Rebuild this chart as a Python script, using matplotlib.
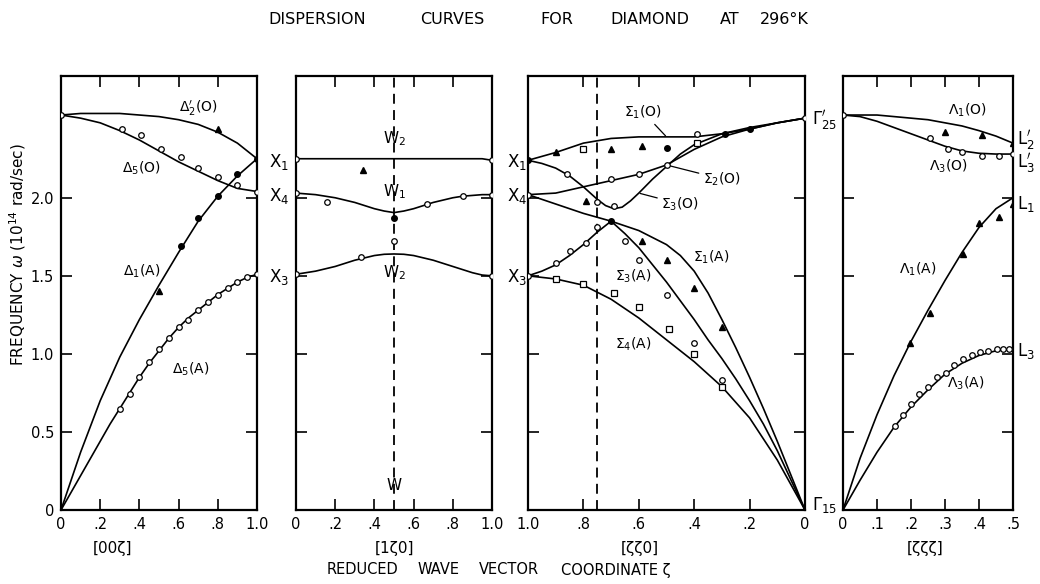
import matplotlib
matplotlib.use('Agg')
import matplotlib.pyplot as plt

plt.rcParams['font.family'] = ['DejaVu Sans']
plt.rcParams['mathtext.fontset'] = 'dejavusans'

# ---------------- [00ζ] panel ----------------
d_zeta = [0, .1, .2, .3, .4, .5, .6, .7, .8, .9, 1.0]
d2p_opt = [2.53, 2.54, 2.54, 2.54, 2.53, 2.52, 2.50, 2.47, 2.42, 2.35, 2.25]
d5_opt = [2.53, 2.51, 2.48, 2.43, 2.37, 2.30, 2.23, 2.17, 2.11, 2.06, 2.04]
d1_ac = [0, 0.37, 0.70, 0.98, 1.22, 1.44, 1.65, 1.85, 2.01, 2.14, 2.25]
d5a_zeta = [0, .1, .2, .25, .3, .35, .4, .45, .5, .55, .6, .65, .7, .75, .8, .85, .9, .95, 1.0]
d5_ac = [0, 0.22, 0.44, 0.55, 0.65, 0.75, 0.85, 0.94, 1.02, 1.10, 1.17, 1.23, 1.28,
         1.33, 1.38, 1.42, 1.46, 1.49, 1.51]

d_circ_z = [.31, .41, .51, .61, .70, .80, .90,
            .30, .35, .40, .45, .50, .55, .60, .65, .70, .75, .80, .85, .90, .95,
            0, 1.0, 1.0]
d_circ_w = [2.44, 2.40, 2.31, 2.26, 2.19, 2.13, 2.08,
            0.65, 0.74, 0.85, 0.95, 1.03, 1.10, 1.17, 1.22, 1.28, 1.33, 1.38, 1.42, 1.46, 1.49,
            2.53, 2.04, 1.51]
d_tri_z = [.80, .50]
d_tri_w = [2.44, 1.40]
d_dot_z = [.61, .70, .80, .90, 1.0]
d_dot_w = [1.69, 1.87, 2.01, 2.15, 2.25]

# ---------------- [1ζ0] panel ----------------
w_zeta = [0, .05, .1, .15, .2, .25, .3, .35, .4, .45, .5, .55, .6, .65, .7, .75, .8, .85, .9, .95, 1.0]
w_x1 = [2.25] * 20 + [2.24]
w_x4 = [2.03, 2.025, 2.02, 2.01, 2.00, 1.985, 1.97, 1.95, 1.93, 1.915, 1.905, 1.915, 1.93,
        1.95, 1.97, 1.985, 2.00, 2.01, 2.015, 2.02, 2.02]
w_x3 = [1.51, 1.52, 1.53, 1.545, 1.56, 1.58, 1.60, 1.615, 1.63, 1.638, 1.64, 1.638, 1.63,
        1.615, 1.60, 1.58, 1.56, 1.54, 1.52, 1.505, 1.50]
w_circ_z = [.16, .67, .85, .33, .50, 0, 0, 0, 1, 1, 1]
w_circ_w = [1.97, 1.96, 2.01, 1.62, 1.72, 2.25, 2.03, 1.51, 2.24, 2.02, 1.50]
w_tri_z = [.34]
w_tri_w = [2.18]
w_dot_z = [.50]
w_dot_w = [1.87]

# ---------------- [ζζ0] panel ----------------
s_zeta = [1.0, .9, .8, .7, .6, .5, .4, .3, .2, .1, 0]
s1_opt = [2.24, 2.29, 2.35, 2.38, 2.39, 2.39, 2.39, 2.41, 2.44, 2.48, 2.51]
s2_opt = [2.02, 2.03, 2.07, 2.11, 2.15, 2.21, 2.31, 2.39, 2.44, 2.48, 2.51]
s3o_zeta = [1.0, .95, .9, .85, .8, .75, .72, .69, .66, .63, .6, .55, .5, .45, .4, .3, .2, .1, 0]
s3_opt = [2.24, 2.22, 2.19, 2.14, 2.07, 1.99, 1.95, 1.93, 1.94, 1.98, 2.03, 2.12, 2.20, 2.28,
          2.34, 2.41, 2.45, 2.48, 2.51]
s1a_zeta = [1.0, .9, .8, .7, .6, .5, .45, .4, .35, .3, .25, .2, .15, .1, .05, 0]
s1_ac = [2.02, 1.96, 1.90, 1.85, 1.79, 1.70, 1.63, 1.53, 1.39, 1.22, 1.04, 0.85, 0.65, 0.44, 0.22, 0]
s3a_zeta = [1.0, .95, .9, .85, .8, .75, .7, .65, .6, .55, .5, .45, .4, .35, .3, .25, .2, .15, .1, .05, 0]
s3_ac = [1.50, 1.53, 1.57, 1.63, 1.70, 1.78, 1.85, 1.77, 1.68, 1.57, 1.46, 1.34, 1.22, 1.09,
         0.97, 0.84, 0.70, 0.55, 0.38, 0.19, 0]
s4_ac = [1.50, 1.48, 1.44, 1.35, 1.23, 1.09, 0.95, 0.79, 0.59, 0.32, 0]

s_tri_z = [.90, .70, .59, .79, .59, .50, .40, .30, 0]
s_tri_w = [2.29, 2.31, 2.33, 1.98, 1.72, 1.60, 1.42, 1.17, 0]
s_sq_z = [.80, .39, .90, .80, .69, .60, .49, .40, .30]
s_sq_w = [2.31, 2.35, 1.48, 1.45, 1.39, 1.30, 1.16, 1.00, 0.79]
s_circ_z = [.39, .86, .75, .70, .60, .69, .50, .90, .85, .79, .75, .65, .60, .50, .40, .30,
            1.0, 1.0, 0]
s_circ_w = [2.41, 2.15, 1.97, 2.12, 2.15, 1.95, 2.21, 1.58, 1.66, 1.71, 1.81, 1.72, 1.60,
            1.38, 1.07, 0.83, 2.02, 1.50, 2.51]
s_dot_z = [.50, .29, .20, .70, 1.0]
s_dot_w = [2.32, 2.41, 2.44, 1.85, 2.24]

# ---------------- [ζζζ] panel ----------------
l_zeta = [0, .05, .1, .15, .2, .25, .3, .35, .4, .45, .5]
l1_opt = [2.53, 2.53, 2.53, 2.52, 2.51, 2.50, 2.48, 2.46, 2.43, 2.395, 2.35]
l3_opt = [2.53, 2.52, 2.49, 2.45, 2.41, 2.37, 2.33, 2.30, 2.285, 2.28, 2.28]
l1_ac = [0, 0.33, 0.61, 0.86, 1.08, 1.28, 1.47, 1.65, 1.81, 1.93, 2.00]
l3_ac = [0, 0.19, 0.37, 0.53, 0.66, 0.77, 0.87, 0.94, 0.99, 1.02, 1.03]

l_tri_z = [.30, .41, .50, .197, .256, .353, .40, .46, .50]
l_tri_w = [2.42, 2.40, 2.35, 1.07, 1.26, 1.64, 1.84, 1.88, 1.96]
l_circ_z = [.256, .31, .35, .41, .46, .50, 0,
            .153, .177, .20, .224, .25, .276, .302, .325, .354, .378, .403, .427, .452, .472, .487]
l_circ_w = [2.38, 2.31, 2.29, 2.27, 2.27, 2.28, 2.53,
            0.54, 0.61, 0.68, 0.74, 0.79, 0.85, 0.88, 0.93, 0.97, 0.99, 1.01, 1.02, 1.03, 1.03, 1.03]

W_TOP = 2.78


def style_axes(ax, xlim, ticks, ticklabels, first=False):
    ax.set_xlim(*xlim)
    ax.set_ylim(0, W_TOP)
    ax.set_xticks(ticks, ticklabels)
    ax.set_yticks([0, 0.5, 1.0, 1.5, 2.0], ['0', '0.5', '1.0', '1.5', '2.0'])
    ax.tick_params(direction='in', length=8, width=1.2, top=True, right=True,
                   labelsize=10.5, pad=5, labelleft=first)
    for s in ax.spines.values():
        s.set_linewidth(1.6)


def curves(ax, z, *series):
    for w in series:
        ax.plot(z, w, color='black', lw=1.2, zorder=2)


def marks(ax, circ=None, tri=None, sq=None, dot=None):
    if circ:
        ax.plot(circ[0], circ[1], 'o', ms=4, mfc='white', mec='black', mew=0.9, zorder=4)
    if tri:
        ax.plot(tri[0], tri[1], '^', ms=4.5, color='black', zorder=4)
    if sq:
        ax.plot(sq[0], sq[1], 's', ms=4, mfc='white', mec='black', mew=0.9, zorder=4)
    if dot:
        ax.plot(dot[0], dot[1], 'o', ms=4, color='black', zorder=4)


fig = plt.figure(figsize=(10.4, 5.84), dpi=100)
bottom = 1 - 510 / 584
height = (510 - 76) / 584
ax1 = fig.add_axes([61 / 1040, bottom, 196 / 1040, height])
ax2 = fig.add_axes([296 / 1040, bottom, 196 / 1040, height])
ax3 = fig.add_axes([528 / 1040, bottom, 277 / 1040, height])
ax4 = fig.add_axes([843 / 1040, bottom, 170 / 1040, height])

lab = dict(fontsize=10)
sym = dict(fontsize=12, va='center', ha='left')

# panel 1
style_axes(ax1, (0, 1.0), [0, .2, .4, .6, .8, 1.0], ['0', '.2', '.4', '.6', '.8', '1.0'], first=True)
curves(ax1, d_zeta, d2p_opt, d5_opt, d1_ac)
curves(ax1, d5a_zeta, d5_ac)
marks(ax1, circ=(d_circ_z, d_circ_w), tri=(d_tri_z, d_tri_w), dot=(d_dot_z, d_dot_w))
ax1.text(0.70, 2.57, r"$\Delta_2^{\prime}$(O)", ha='center', va='center', **lab)
ax1.text(0.41, 2.19, r"$\Delta_5$(O)", ha='center', va='center', **lab)
ax1.text(0.41, 1.53, r"$\Delta_1$(A)", ha='center', va='center', **lab)
ax1.text(0.66, 0.90, r"$\Delta_5$(A)", ha='center', va='center', **lab)
t1 = ax1.get_yaxis_transform()
for name, w in [(r"X$_1$", 2.23), (r"X$_4$", 2.01), (r"X$_3$", 1.49)]:
    ax1.text(1.06, w, name, transform=t1, **sym)

# panel 2
style_axes(ax2, (0, 1.0), [0, .2, .4, .6, .8, 1.0], ['0', '.2', '.4', '.6', '.8', '1.0'])
ax2.axvline(0.5, color='black', lw=1.3, ls=(0, (5.5, 3.5)), zorder=1)
curves(ax2, w_zeta, w_x1, w_x4, w_x3)
marks(ax2, circ=(w_circ_z, w_circ_w), tri=(w_tri_z, w_tri_w), dot=(w_dot_z, w_dot_w))
for name, w in [(r"W$_2$", 2.38), (r"W$_1$", 2.04), (r"W$_2$", 1.52), ("W", 0.16)]:
    ax2.text(0.5, w, name, ha='center', va='center', fontsize=11)
t2 = ax2.get_yaxis_transform()
for name, w in [(r"X$_1$", 2.23), (r"X$_4$", 2.01), (r"X$_3$", 1.49)]:
    ax2.text(1.075, w, name, transform=t2, **sym)

# panel 3
style_axes(ax3, (1.0, 0), [1.0, .8, .6, .4, .2, 0], ['1.0', '.8', '.6', '.4', '.2', '0'])
ax3.axvline(0.75, color='black', lw=1.3, ls=(0, (5.5, 3.5)), zorder=1)
curves(ax3, s_zeta, s1_opt, s2_opt, s4_ac)
curves(ax3, s3o_zeta, s3_opt)
curves(ax3, s1a_zeta, s1_ac)
curves(ax3, s3a_zeta, s3_ac)
marks(ax3, circ=(s_circ_z, s_circ_w), tri=(s_tri_z, s_tri_w), sq=(s_sq_z, s_sq_w),
      dot=(s_dot_z, s_dot_w))
lead = dict(arrowstyle='-', lw=0.9, color='black', shrinkA=1, shrinkB=1)
ax3.annotate(r"$\Sigma_1$(O)", xy=(s_zeta[5], s1_opt[5]), xytext=(0.585, 2.55),
             ha='center', va='center', arrowprops=lead, **lab)
ax3.annotate(r"$\Sigma_2$(O)", xy=(s_zeta[5], s2_opt[5]), xytext=(0.30, 2.12),
             ha='center', va='center', arrowprops=lead, **lab)
ax3.annotate(r"$\Sigma_3$(O)", xy=(s3o_zeta[10], s3_opt[10]), xytext=(0.45, 1.96),
             ha='center', va='center', arrowprops=lead, **lab)
ax3.text(0.34, 1.62, r"$\Sigma_1$(A)", ha='center', va='center', **lab)
ax3.text(0.62, 1.50, r"$\Sigma_3$(A)", ha='center', va='center', **lab)
ax3.text(0.62, 1.06, r"$\Sigma_4$(A)", ha='center', va='center', **lab)
t3 = ax3.get_yaxis_transform()
ax3.text(1.025, 2.50, r"$\Gamma_{25}^{\prime}$", transform=t3, **sym)
ax3.text(1.025, 0.03, r"$\Gamma_{15}$", transform=t3, **sym)

# panel 4
style_axes(ax4, (0, 0.5), [0, .1, .2, .3, .4, .5], ['0', '.1', '.2', '.3', '.4', '.5'])
curves(ax4, l_zeta, l1_opt, l3_opt, l1_ac, l3_ac)
marks(ax4, circ=(l_circ_z, l_circ_w), tri=(l_tri_z, l_tri_w))
ax4.text(0.365, 2.56, r"$\Lambda_1$(O)", ha='center', va='center', **lab)
ax4.text(0.31, 2.20, r"$\Lambda_3$(O)", ha='center', va='center', **lab)
ax4.text(0.22, 1.54, r"$\Lambda_1$(A)", ha='center', va='center', **lab)
ax4.text(0.36, 0.81, r"$\Lambda_3$(A)", ha='center', va='center', **lab)
t4 = ax4.get_yaxis_transform()
for name, w in [(r"L$_2^{\prime}$", 2.37), (r"L$_3^{\prime}$", 2.22),
                (r"L$_1$", 1.96), (r"L$_3$", 1.02)]:
    ax4.text(1.025, w, name, transform=t4, **sym)

# titles and axis texts
title_words = ["DISPERSION", "CURVES", "FOR", "DIAMOND", "AT", "296°K"]
title_x = [268, 420, 540, 610, 720, 760]
for word, x in zip(title_words, title_x):
    fig.text(x / 1040, 1 - 20 / 584, word, fontsize=11.5, ha='left', va='center')

for text, x in [("[00ζ]", 112), ("[1ζ0]", 395), ("[ζζ0]", 640), ("[ζζζ]", 925)]:
    fig.text(x / 1040, 1 - 548 / 584, text, fontsize=11, ha='center', va='center')

bottom_words = ["REDUCED", "WAVE", "VECTOR", "COORDINATE ζ"]
bottom_x = [327, 418, 479, 561]
for word, x in zip(bottom_words, bottom_x):
    fig.text(x / 1040, 1 - 570 / 584, word, fontsize=10.5, ha='left', va='center')

fig.text(18 / 1040, 1 - 255 / 584, r"FREQUENCY $\omega$ (10$^{14}$ rad/sec)", rotation=90,
         fontsize=11, ha='center', va='center')

fig.savefig('out.png', dpi=100)
